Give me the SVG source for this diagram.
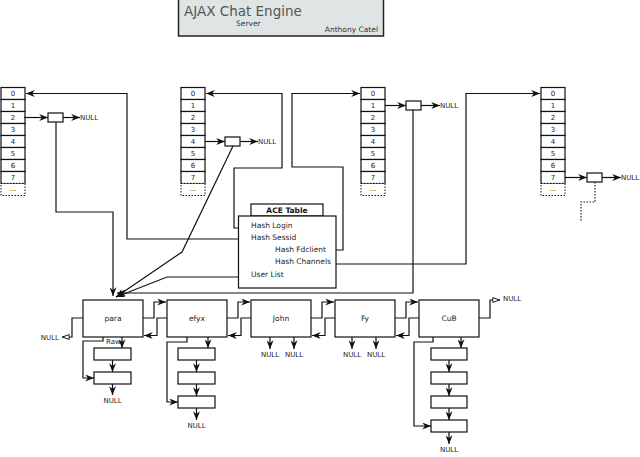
<svg xmlns="http://www.w3.org/2000/svg" width="640" height="457" viewBox="0 0 640 457">
<defs>
<style>
.b{fill:#fff;stroke:#111;stroke-width:1.2}
.d{fill:#fff;stroke:#111;stroke-width:1;stroke-dasharray:1.5,1.5}
.c{fill:none;stroke:#111;stroke-width:1.2}
.dc{fill:none;stroke:#111;stroke-width:1.1;stroke-dasharray:1.5,1.5}
text{font-family:"DejaVu Sans","Liberation Sans",sans-serif;fill:#222}
.n{font-size:7px;text-anchor:middle}
.l{font-size:7px}
.t{font-size:7.5px}
.m{font-size:7.5px;text-anchor:middle}
</style>
<marker id="a" viewBox="0 0 10 8" markerWidth="9" markerHeight="7" refX="10" refY="4" orient="auto" markerUnits="userSpaceOnUse"><path d="M0,0 L10,4 L0,8 L3,4 z" fill="#111"/></marker>
<marker id="h" viewBox="0 0 10 8" markerWidth="8" markerHeight="7" refX="10" refY="4" orient="auto" markerUnits="userSpaceOnUse"><path d="M1,1 L9.5,4 L1,7 z" fill="#fff" stroke="#111" stroke-width="1.2"/></marker>
<g id="tbl">
<rect class="b" x="0" y="0" width="24" height="12"/><text class="n" x="12" y="8.5">0</text>
<rect class="b" x="0" y="12" width="24" height="12"/><text class="n" x="12" y="20.5">1</text>
<rect class="b" x="0" y="24" width="24" height="12"/><text class="n" x="12" y="32.5">2</text>
<rect class="b" x="0" y="36" width="24" height="12"/><text class="n" x="12" y="44.5">3</text>
<rect class="b" x="0" y="48" width="24" height="12"/><text class="n" x="12" y="56.5">4</text>
<rect class="b" x="0" y="60" width="24" height="12"/><text class="n" x="12" y="68.5">5</text>
<rect class="b" x="0" y="72" width="24" height="12"/><text class="n" x="12" y="80.5">6</text>
<rect class="b" x="0" y="84" width="24" height="12"/><text class="n" x="12" y="92.5">7</text>
<rect class="d" x="0" y="96" width="24" height="12"/><text class="n" x="12" y="103">...</text>
</g>
</defs>
<rect width="640" height="457" fill="#fff"/>

<g id="title">
<rect x="178.5" y="-1" width="205" height="37" fill="#dfe5e5" stroke="#222" stroke-width="1.5"/>
<text x="184" y="15.5" style="font-size:13.5px;fill:#555">AJAX Chat Engine</text>
<text x="236" y="26" style="font-size:7.5px;fill:#333">Server</text>
<text x="378" y="31.5" style="font-size:7.5px;fill:#333;text-anchor:end">Anthony Catel</text>
</g>

<g id="table1"><use href="#tbl" x="1" y="87.5"/></g>
<g id="table2"><use href="#tbl" x="181" y="87.5"/></g>
<g id="table3"><use href="#tbl" x="361" y="87.5"/></g>
<g id="table4"><use href="#tbl" x="541" y="87.5"/></g>

<g id="entry1"><rect class="b" x="48" y="113" width="15" height="9"/><text class="l" x="80" y="120">NULL</text></g>
<g id="entry2"><rect class="b" x="225" y="137" width="15" height="9"/><text class="l" x="258" y="144">NULL</text></g>
<g id="entry3"><rect class="b" x="406" y="101" width="15" height="9"/><text class="l" x="440" y="108">NULL</text></g>
<g id="entry4"><rect class="b" x="587" y="173" width="15" height="9"/><text class="l" x="621" y="180">NULL</text></g>

<g id="ace">
<rect class="b" x="251" y="204" width="72" height="12"/>
<text x="287" y="213" style="font-size:7.5px;font-weight:bold;text-anchor:middle;fill:#111">ACE Table</text>
<rect class="b" x="238.5" y="216" width="97.5" height="72"/>
<text class="t" x="251" y="228">Hash Login</text>
<text class="t" x="251" y="240">Hash Sessid</text>
<text class="t" x="275" y="252">Hash Fdclient</text>
<text class="t" x="275" y="264">Hash Channels</text>
<text class="t" x="251" y="277">User List</text>
</g>

<g id="para"><rect class="b" x="83" y="300" width="60" height="37"/><text class="m" x="113" y="321">para</text></g>
<g id="efyx"><rect class="b" x="167" y="300" width="60" height="37"/><text class="m" x="197" y="321">efyx</text></g>
<g id="john"><rect class="b" x="251" y="300" width="60" height="37"/><text class="m" x="281" y="321">John</text></g>
<g id="fy"><rect class="b" x="335" y="300" width="60" height="37"/><text class="m" x="365" y="321">Fy</text></g>
<g id="cub"><rect class="b" x="419" y="300" width="60" height="37"/><text class="m" x="449" y="321">CuB</text></g>

<g id="para-sub">
<rect class="b" x="94" y="348" width="37" height="12"/>
<rect class="b" x="94" y="372" width="37" height="12"/>
<text class="l" x="106" y="343.5">Raw</text>
<text class="n" x="112.5" y="403">NULL</text>
</g>
<g id="efyx-sub">
<rect class="b" x="178" y="348" width="37" height="12"/>
<rect class="b" x="178" y="372" width="37" height="12"/>
<rect class="b" x="178" y="396" width="37" height="12"/>
<text class="n" x="196.5" y="428">NULL</text>
</g>
<g id="cub-sub">
<rect class="b" x="431" y="348" width="36" height="12"/>
<rect class="b" x="431" y="372" width="36" height="12"/>
<rect class="b" x="431" y="396" width="36" height="12"/>
<rect class="b" x="431" y="420" width="36" height="12"/>
<text class="n" x="449" y="452">NULL</text>
</g>
<g id="null-labels">
<text class="n" x="270" y="357">NULL</text><text class="n" x="294" y="357">NULL</text>
<text class="n" x="352" y="357">NULL</text><text class="n" x="376" y="357">NULL</text>
<text class="l" x="59" y="340" style="text-anchor:end">NULL</text>
<text class="l" x="503" y="301">NULL</text>
</g>

<g id="connectors" marker-end="url(#a)">
<path class="c" d="M24,117.5 H48"/>
<path class="c" d="M63,117.5 H80"/>
<path class="c" d="M205,141.5 H225"/>
<path class="c" d="M240,141.5 H258"/>
<path class="c" d="M385,105.5 H406"/>
<path class="c" d="M421,105.5 H440"/>
<path class="c" d="M565,177.5 H587"/>
<path class="c" d="M602,177.5 H621"/>
<path class="dc" d="M595,182 V202 H581 V222" marker-end="none"/>

<path class="c" d="M238.5,228 H234 V168 H282 V93.5 H206"/>
<path class="c" d="M238.5,239 H127 V93.5 H26"/>
<path class="c" d="M336,250 H343 V167 H292 V93.5 H360"/>
<path class="c" d="M336,264 H466 V93.5 H540"/>

<path class="c" d="M56,122 V212 H113 V296"/>
<path class="c" d="M233,146 L182,252 L116,297"/>
<path class="c" d="M413,110 V293 H117"/>
<path class="c" d="M238.5,277 H167 L116,297"/>

<path class="c" d="M143,318 H154 V302 H166"/>
<path class="c" d="M167,318 H157 V335.5 H144"/>
<path class="c" d="M227,318 H238 V302 H250"/>
<path class="c" d="M251,318 H241 V335.5 H228"/>
<path class="c" d="M311,318 H322 V302 H334"/>
<path class="c" d="M335,318 H325 V335.5 H312"/>
<path class="c" d="M395,318 H406 V302 H418"/>
<path class="c" d="M419,318 H409 V335.5 H396"/>

<path class="c" d="M83,318 H72 V337 H62" marker-end="url(#h)"/>
<path class="c" d="M479,318 H490 V300 H500" marker-end="url(#h)"/>

<path class="c" d="M122,337 V348"/>
<path class="c" d="M112.5,360 V372"/>
<path class="c" d="M112.5,384 V395"/>
<path class="c" d="M103,337 V341 H83 V378 H94"/>

<path class="c" d="M208,337 V348"/>
<path class="c" d="M196.5,360 V372"/>
<path class="c" d="M196.5,384 V396"/>
<path class="c" d="M196.5,408 V420"/>
<path class="c" d="M187,337 V342 H167 V402 H178"/>

<path class="c" d="M461,337 V348"/>
<path class="c" d="M449,360 V372"/>
<path class="c" d="M449,384 V396"/>
<path class="c" d="M449,408 V420"/>
<path class="c" d="M449,432 V444"/>
<path class="c" d="M433,337 V342 H414 V426 H431"/>

<path class="c" d="M270,337 V349"/>
<path class="c" d="M294,337 V349"/>
<path class="c" d="M352,337 V349"/>
<path class="c" d="M376,337 V349"/>
</g>
</svg>
